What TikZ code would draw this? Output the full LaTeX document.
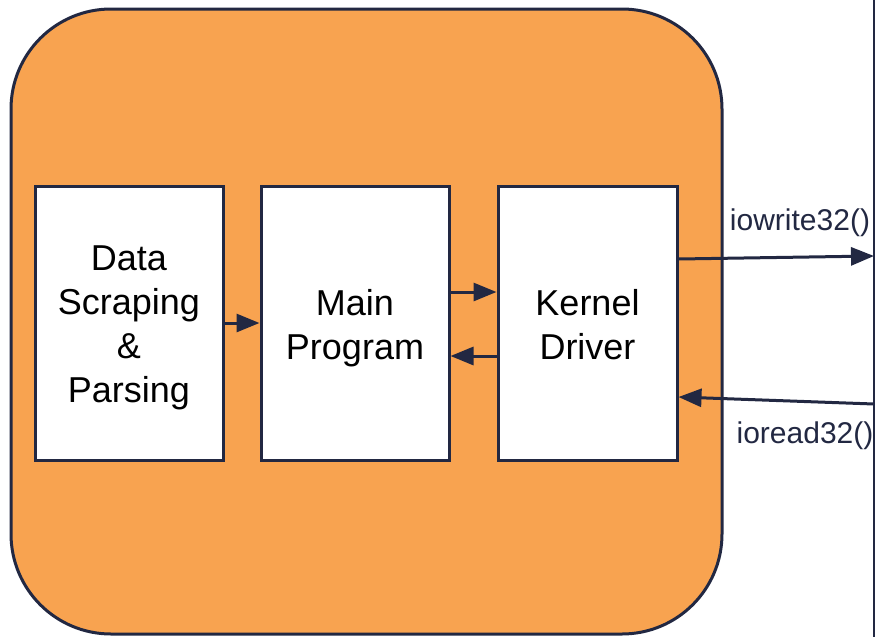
\documentclass[tikz,border=0pt]{standalone}
\usepackage{fontspec}
\setmainfont{Liberation Sans}
\usetikzlibrary{arrows.meta}
\definecolor{navy}{HTML}{222842}
\definecolor{shell}{HTML}{F8A350}
\tikzset{
  block/.style={draw=navy, line width=3pt, fill=white,
    inner sep=0pt, minimum height=274pt},
  blocktext/.style={align=center, inner sep=0pt, text=black,
    font=\fontsize{36}{44}\selectfont},
  link/.style={draw=navy, line width=3pt,
    -{Triangle[length=23pt,width=18pt]}},
  callname/.style={text=navy, font=\fontsize{30}{34}\selectfont, anchor=base}
}
\begin{document}
\begin{tikzpicture}[x=1pt,y=-1pt]
  \useasboundingbox (0,0) rectangle (875,637);
  % enclosing orange module
  \draw[draw=navy, line width=3pt, fill=shell, rounded corners=100pt]
    (11,9) rectangle (722,634);
  % bus boundary on the right
  \draw[navy, line width=2pt] (873.5,0) -- (873.5,637);
  % functional blocks
  \node[block, minimum width=188pt] (scrape) at (129,323) {};
  \node[block, minimum width=188pt] (main) at (355,323) {};
  \node[block, minimum width=179pt] (driver) at (587.5,323) {};
  \node[blocktext] (scrapetext) at ([yshift=-5pt]scrape.center)
    {Data\\Scraping\\\&\\Parsing};
  \node[blocktext] (maintext) at ([yshift=-5pt]main.center)
    {Main\\Program};
  \node[blocktext] (drivertext) at ([yshift=-2pt]driver.center)
    {Kernel\\Driver};
  % internal data flow
  \draw[link] (scrape.east) -- (main.west);
  \draw[link] ([yshift=31pt]main.east) -- ([yshift=31pt]driver.west);
  \draw[link] ([yshift=-33pt]driver.west) -- ([yshift=-33pt]main.east);
  % register access across the bus
  \coordinate (wend) at (874,256);
  \coordinate (rstart) at (874,404);
  \draw[link] ([yshift=64pt]driver.east) -- (wend);
  \draw[link] (rstart) -- ([yshift=-74pt]driver.east);
  \node[callname] (wlabel) at (800,230) {iowrite32()};
  \node[callname] (rlabel) at (805,443) {ioread32()};
\end{tikzpicture}
\end{document}
